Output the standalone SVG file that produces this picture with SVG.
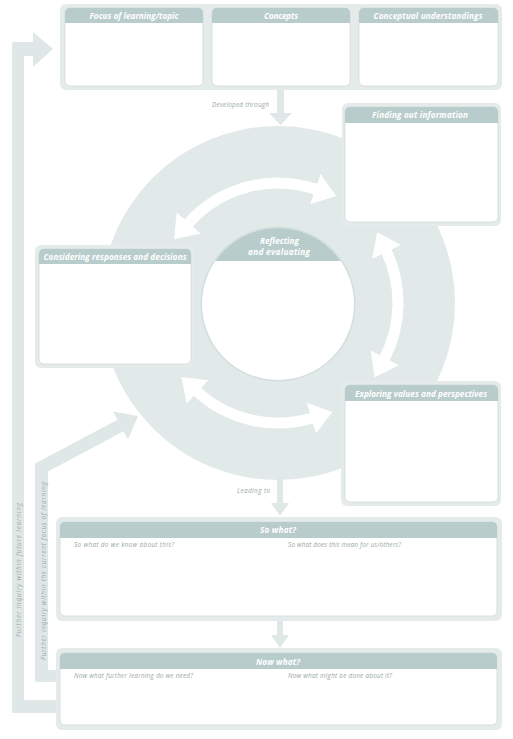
<svg xmlns="http://www.w3.org/2000/svg" width="513" height="739" viewBox="0 0 513 739">
<style>
.frame{fill:#e5ebeb}
.box{fill:#fff;stroke:#cfd9d9;stroke-width:0.8}
.hdr{fill:#b9cccc}
.ht{font-family:"Open Sans","Liberation Sans",sans-serif;font-style:italic;font-weight:bold;font-size:8.2px;fill:#fff;text-anchor:middle}
.st{font-family:"Open Sans","Liberation Sans",sans-serif;font-style:italic;font-size:6.4px;fill:#9ba7a7}
.conn{fill:#dfe7e7}
.warc{fill:none;stroke:#fff;stroke-width:11;marker-start:url(#wh);marker-end:url(#wh)}
</style>
<defs>
<marker id="wh" markerUnits="userSpaceOnUse" viewBox="0 -17 23 34" refX="1" refY="0" markerWidth="23" markerHeight="34" orient="auto-start-reverse">
<path d="M0,-16 L22,0 L0,16 Z" fill="#fff"/>
</marker>
<clipPath id="cc"><circle cx="278" cy="304" r="76"/></clipPath>
</defs>

<g id="cycle-ring">
<circle cx="278" cy="303" r="177" fill="#e1e9e9"/>
</g>

<g id="connectors">
<path class="conn" d="M57,713 L14,713 Q12,713 12,711 L12,44 Q12,42 14,42 L33,42 L33,32 L53,49 L33,67 L33,56 L24,56 L24,700 L57,700 Z"/>
<path class="conn" d="M57,682 L37,682 Q35,682 35,680 L35,463.6 L117.5,419.8 L113,411.4 L138,416 L128,439.6 L123.5,431.2 L48,471.4 L48,670 L57,670 Z"/>
<path class="conn" d="M277,90 L284,90 L284,113 L292,113 L280.5,125 L269,113 L277,113 Z"/>
<path class="conn" d="M277,476 L283,476 L283,503 L289,503 L280,516 L271,503 L277,503 Z"/>
<path class="conn" d="M277,621 L283,621 L283,635 L289,635 L280,648 L271,635 L277,635 Z"/>
<path class="warc" d="M188.0,223.6 A120,120 0 0 1 316.3,189.3"/>
<path class="warc" d="M386.2,251.1 A120,120 0 0 1 384.3,358.6"/>
<path class="warc" d="M312.3,418.0 A120,120 0 0 1 196.8,391.3"/>
<text class="st" x="212" y="107" textLength="57">Developed through</text>
<text class="st" x="237" y="493" textLength="33">Leading to</text>
<text class="st" transform="translate(21,570) rotate(-90)" text-anchor="middle" textLength="134">Further inquiry within future learning</text>
<text class="st" transform="translate(46,571) rotate(-90)" text-anchor="middle" textLength="178">Further inquiry within the current focus of learning</text>
</g>

<g id="top-row">
<rect class="frame" x="60" y="4" width="442" height="86" rx="6"/>
<g id="focus">
<rect class="box" x="65" y="8" width="138" height="78" rx="5"/>
<path class="hdr" d="M65,23 L65,13 Q65,8 70,8 L198,8 Q203,8 203,13 L203,23 Z"/>
<text class="ht" x="134" y="18.8" textLength="89">Focus of learning/topic</text>
</g>
<g id="concepts">
<rect class="box" x="212" y="8" width="138" height="78" rx="5"/>
<path class="hdr" d="M212,23 L212,13 Q212,8 217,8 L345,8 Q350,8 350,13 L350,23 Z"/>
<text class="ht" x="281" y="18.8" textLength="34">Concepts</text>
</g>
<g id="understandings">
<rect class="box" x="359" y="8" width="139" height="78" rx="5"/>
<path class="hdr" d="M359,23 L359,13 Q359,8 364,8 L493,8 Q498,8 498,13 L498,23 Z"/>
<text class="ht" x="428" y="18.8" textLength="109">Conceptual understandings</text>
</g>
</g>

<g id="finding">
<rect class="frame" x="342" y="103" width="159" height="123" rx="6"/>
<rect class="box" x="345" y="107" width="153" height="115" rx="5"/>
<path class="hdr" d="M345,123 L345,112 Q345,107 350,107 L493,107 Q498,107 498,112 L498,123 Z"/>
<text class="ht" x="420" y="118" textLength="96">Finding out information</text>
</g>

<g id="considering">
<rect class="frame" x="35" y="245" width="159" height="123" rx="6"/>
<rect class="box" x="39" y="249" width="152" height="115" rx="5"/>
<path class="hdr" d="M39,264 L39,254 Q39,249 44,249 L186,249 Q191,249 191,254 L191,264 Z"/>
<text class="ht" x="115" y="260" textLength="143">Considering responses and decisions</text>
</g>

<g id="exploring">
<rect class="frame" x="341" y="381" width="160" height="125" rx="6"/>
<rect class="box" x="345" y="385" width="153" height="117" rx="5"/>
<path class="hdr" d="M345,401 L345,390 Q345,385 350,385 L493,385 Q498,385 498,390 L498,401 Z"/>
<text class="ht" x="421" y="397" textLength="132">Exploring values and perspectives</text>
</g>

<g id="reflecting">
<circle cx="278" cy="304" r="77.5" fill="#d4dede"/>
<circle cx="278" cy="304" r="76" fill="#fff"/>
<rect class="hdr" x="200" y="226" width="156" height="35" clip-path="url(#cc)"/>
<text class="ht" x="279.5" y="244" textLength="39" font-size="8.6">Reflecting</text>
<text class="ht" x="279" y="255" textLength="62" font-size="8.6">and evaluating</text>
</g>

<g id="so-what">
<rect class="frame" x="56" y="517" width="446" height="104" rx="6"/>
<rect class="box" x="60" y="522" width="437" height="94" rx="5"/>
<path class="hdr" d="M60,538 L60,527 Q60,522 65,522 L492,522 Q497,522 497,527 L497,538 Z"/>
<text class="ht" x="278" y="533" textLength="36">So what?</text>
<text class="st" x="74" y="547" textLength="100">So what do we know about this?</text>
<text class="st" x="288" y="547" textLength="113">So what does this mean for us/others?</text>
</g>

<g id="now-what">
<rect class="frame" x="56" y="648" width="446" height="82" rx="6"/>
<rect class="box" x="60" y="653" width="437" height="72" rx="5"/>
<path class="hdr" d="M60,669 L60,658 Q60,653 65,653 L492,653 Q497,653 497,658 L497,669 Z"/>
<text class="ht" x="278" y="664.5" textLength="44">Now what?</text>
<text class="st" x="74" y="678" textLength="119">Now what further learning do we need?</text>
<text class="st" x="288" y="678" textLength="104">Now what might be done about it?</text>
</g>
</svg>
